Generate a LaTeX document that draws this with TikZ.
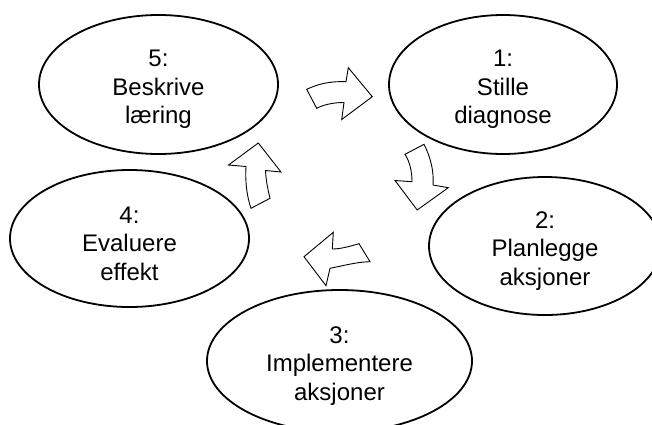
\documentclass[tikz,border=0pt]{standalone}
\usepackage{fontspec}
\setmainfont{Liberation Sans}
\usetikzlibrary{shapes.geometric}
\begin{document}
\begin{tikzpicture}[x=1pt,y=-1pt,
  stage/.style={ellipse, draw=black, line width=1.8pt, inner sep=0pt},
  stagetext/.style={align=center, inner sep=0pt, yshift=-5pt,
    font=\fontsize{24}{28.5}\selectfont},
  blockarrow/.style={draw=black, fill=white, line width=0.9pt, line join=miter}]
\useasboundingbox (0,0) rectangle (652,424);
\node[stage, minimum width=239pt, minimum height=139pt] (s5) at (158.5,84.5) {};
\node[stage, minimum width=228pt, minimum height=139pt] (s1) at (503,84.5) {};
\node[stage, minimum width=232pt, minimum height=138pt] (s2) at (545,246) {};
\node[stage, minimum width=265pt, minimum height=142pt] (s3) at (339.5,361) {};
\node[stage, minimum width=239pt, minimum height=137pt] (s4) at (129.5,238.5) {};
\node[stagetext] (t5) at (s5.center) {5:\\Beskrive\\læring};
\node[stagetext] (t1) at (s1.center) {1:\\Stille\\diagnose};
\node[stagetext] (t2) at (s2.center) {2:\\Planlegge\\aksjoner};
\node[stagetext] (t3) at (s3.center) {3:\\Implementere\\aksjoner};
\node[stagetext] (t4) at (s4.center) {4:\\Evaluere\\effekt};
% arrow 5 -> 1
\draw[blockarrow] (306.7,89.3) .. controls (318,84) and (330,81) .. (346,81.7)
  -- (348.3,67.7) -- (372.3,96.7) -- (341.7,119.5) -- (344,102.5)
  .. controls (335,102.5) and (325,104) .. (316.7,108.3) -- cycle;
% arrow 1 -> 2
\draw[blockarrow] (405,154.3) -- (424,144.3) .. controls (431,158) and (434,172) .. (433,185)
  -- (448.3,187.7) -- (417.2,210) -- (395,180.5) -- (412,181.7)
  .. controls (412,172) and (410,162) .. (405,154.3) -- cycle;
% arrow 2 -> 3
\draw[blockarrow] (304,256.7) -- (333.3,232.3) -- (332.3,249)
  .. controls (341,249) and (351,246) .. (359,243.7) -- (370,261.7)
  .. controls (356,262) and (342,266) .. (330,268.3) -- (326,285.7) -- cycle;
% arrow 4 -> 5
\draw[blockarrow] (258.3,143) -- (281,172) -- (265.5,170.5)
  .. controls (266,181) and (268,190) .. (270,198.3) -- (251,208.3)
  .. controls (247,197) and (245,182) .. (246,166.5) -- (228.5,165) -- cycle;
\end{tikzpicture}
\end{document}
